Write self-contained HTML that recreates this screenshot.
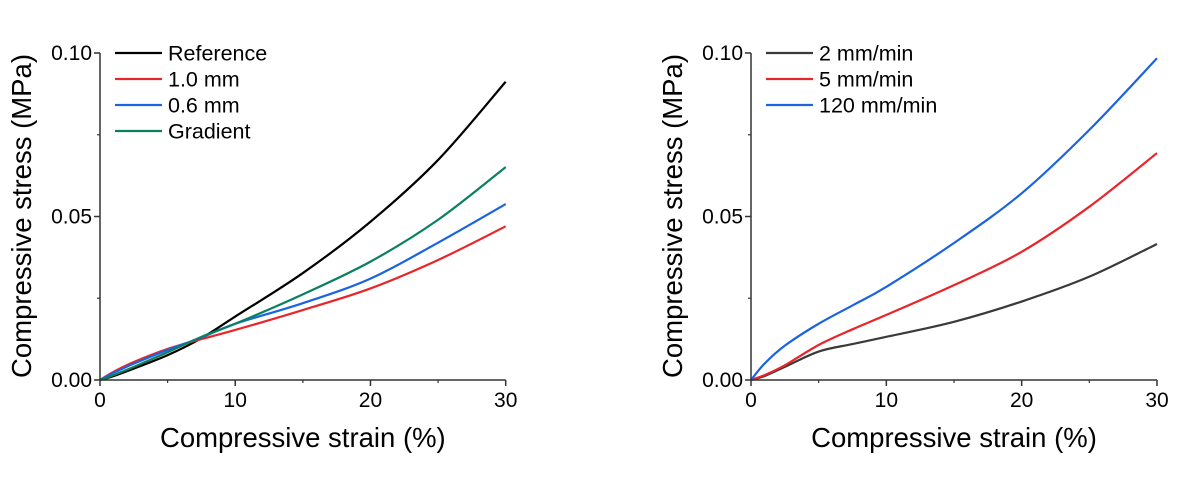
<!DOCTYPE html>
<html><head><meta charset="utf-8"><style>
body{margin:0;background:#fff}
svg text{font-family:"Liberation Sans",Arial,sans-serif;fill:#000}
</style></head><body>
<svg id="s" width="1200" height="473" viewBox="0 0 1200 473"></svg>
<script>
const strain=[0,1,2.5,5,7.5,10,15,20,25,30];
const leftNames=["Reference","1.0 mm","0.6 mm","Gradient"];
const leftColors=["#000000","#e8262a","#1a64e0","#0a8060"];
const refVals=[0,0.0012,0.0035,0.0076,0.0128,0.0194,0.0327,0.0484,0.0673,0.0912];
const mm10Vals=[0,0.0025,0.0055,0.0095,0.0125,0.0153,0.0214,0.028,0.0367,0.047];
const mm06Vals=[0,0.0022,0.005,0.0092,0.013,0.0172,0.0235,0.031,0.042,0.0538];
const gradVals=[0,0.0015,0.004,0.0085,0.0132,0.0172,0.0262,0.0362,0.049,0.0651];
const rightNames=["2 mm/min","5 mm/min","120 mm/min"];
const rightColors=["#3a3a3a","#e8262a","#1a64e0"];
const r2Vals=[0,0.0012,0.004,0.0087,0.011,0.0132,0.0178,0.024,0.0316,0.0416];
const r5Vals=[0,0.0015,0.0045,0.0107,0.0155,0.0199,0.029,0.0392,0.053,0.0694];
const r120Vals=[0,0.005,0.0105,0.0172,0.0228,0.0285,0.0419,0.0571,0.0765,0.0984];
const xTicks=[0,10,20,30];
const yTicks=[0,0.05,0.10];
const yTickLabels=["0.00","0.05","0.10"];
const NS="http://www.w3.org/2000/svg";
const svg=document.getElementById('s');
function mk(tag,attrs,parent){const e=document.createElementNS(NS,tag);for(const k in attrs)e.setAttribute(k,attrs[k]);(parent||svg).appendChild(e);return e;}
function chart(x0,x1,series,names,colors,prefix){
  const y0=380,y1=53;
  const X=v=>x0+(v-0)/30*(x1-x0);
  const Y=v=>y0-(v/0.10)*(y0-y1);
  const g=mk('g',{});
  
  
  series.forEach((vals,i)=>{
    const pts=strain.map((s,j)=>[X(s),Y(vals[j])]);
    let d='M'+pts[0][0]+','+pts[0][1];
    for(let j=0;j<pts.length-1;j++){
      const p0=pts[Math.max(0,j-1)],p1=pts[j],p2=pts[j+1],p3=pts[Math.min(pts.length-1,j+2)];
      const c1=[p1[0]+(p2[0]-p0[0])/6,p1[1]+(p2[1]-p0[1])/6];
      const c2=[p2[0]-(p3[0]-p1[0])/6,p2[1]-(p3[1]-p1[1])/6];
      d+=` C${c1[0]},${c1[1]} ${c2[0]},${c2[1]} ${p2[0]},${p2[1]}`;
    }
    const p=mk('path',{d:d,fill:'none',stroke:colors[i],'stroke-width':2.2},g);
    
    
  });
  const ax=mk('path',{d:`M${x0},${y1} V${y0} H${x1}`,fill:'none',stroke:'#333','stroke-width':1.5},g);
  
  
  xTicks.forEach(t=>{
    mk('line',{x1:X(t),x2:X(t),y1:y0,y2:y0+6,stroke:'#333','stroke-width':1.5},g);
    const tx=mk('text',{x:X(t),y:y0+27,'text-anchor':'middle','font-size':21},g);
    tx.textContent=t;
    
    
  });
  [5,15,25].forEach(t=>mk('line',{x1:X(t),x2:X(t),y1:y0,y2:y0+3,stroke:'#333','stroke-width':1.2},g));
  yTicks.forEach((t,i)=>{
    mk('line',{x1:x0-6,x2:x0,y1:Y(t),y2:Y(t),stroke:'#333','stroke-width':1.5},g);
    const tx=mk('text',{x:x0-8,y:Y(t)+7,'text-anchor':'end','font-size':21},g);
    tx.textContent=yTickLabels[i];
    
    
  });
  [0.025,0.075].forEach(t=>mk('line',{x1:x0-3,x2:x0,y1:Y(t),y2:Y(t),stroke:'#333','stroke-width':1.2},g));
  const xt=mk('text',{x:(x0+x1)/2,y:447,'text-anchor':'middle','font-size':27.5},g);
  xt.textContent='Compressive strain (%)';
  
  
  const yt=mk('text',{x:0,y:0,'text-anchor':'middle','font-size':27.5,transform:`translate(${x0-69},216) rotate(-90)`},g);
  yt.textContent='Compressive stress (MPa)';
  
  
  names.forEach((n,i)=>{
    const ly=53+i*26;
    const lg=mk('g',{},g);
    
    
    mk('line',{x1:x0+15,x2:x0+62,y1:ly,y2:ly,stroke:colors[i],'stroke-width':2.2},lg);
    const t=mk('text',{x:x0+68,y:ly+7.5,'font-size':21.5},lg);
    t.textContent=n;
  });
}
chart(100,505.7,[refVals,mm10Vals,mm06Vals,gradVals],leftNames,leftColors,'left');
chart(751,1157,[r2Vals,r5Vals,r120Vals],rightNames,rightColors,'right');
</script>
</body></html>
